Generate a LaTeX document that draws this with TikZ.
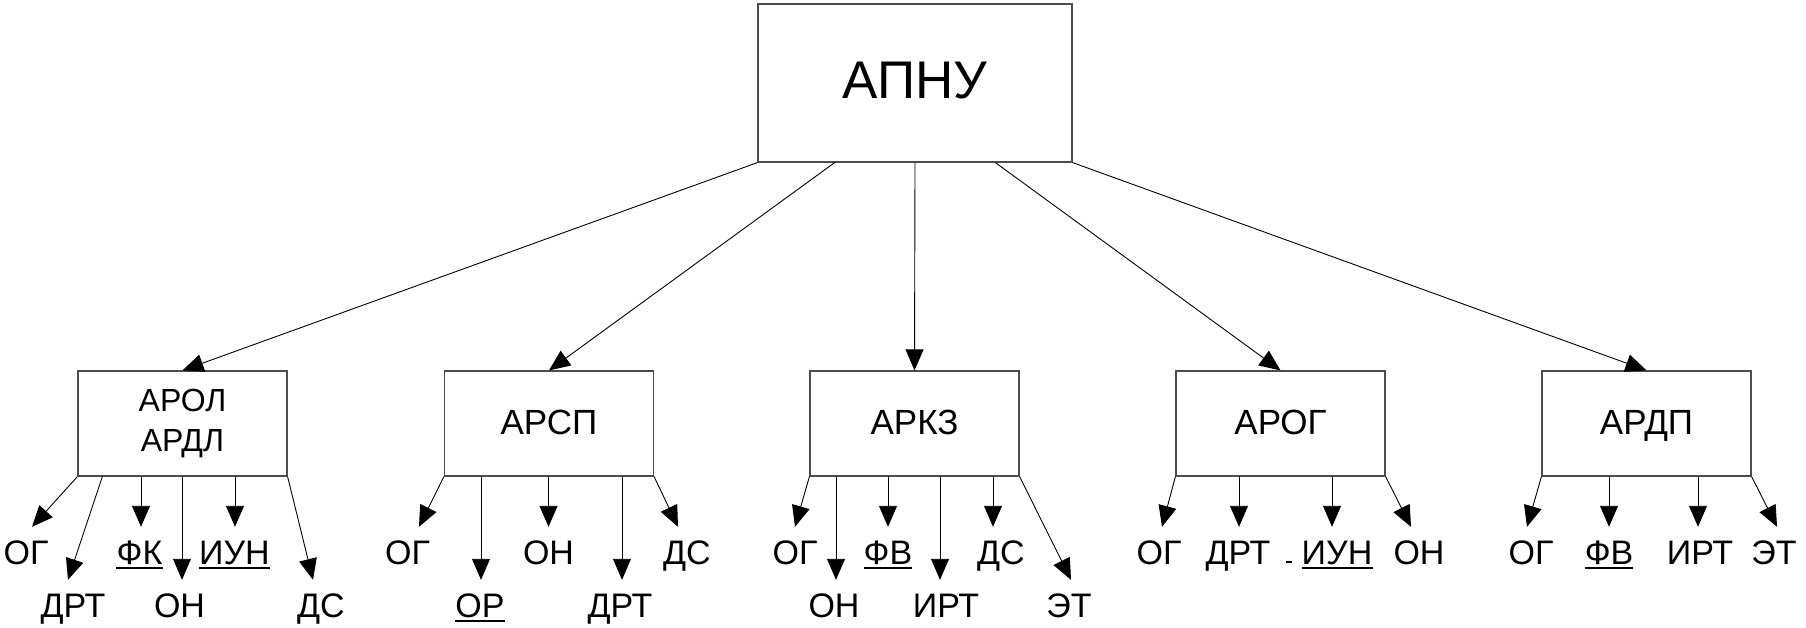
\documentclass[tikz,border=0pt]{standalone}
\usepackage{fontspec}
\setmainfont{Liberation Sans}
\usetikzlibrary{arrows.meta,calc}
\begin{document}
\begin{tikzpicture}[x=1pt,y=-1pt,
  boxst/.style={draw=black!70, line width=1.2pt, minimum width=209pt, minimum height=105pt, inner sep=0pt, align=center, font=\fontsize{35}{40}\selectfont},
  lab/.style={inner sep=0pt, anchor=base, text height=24pt, text depth=0pt, font=\fontsize{34}{40}\selectfont},
  conn/.style={line width=0.9pt, -{Triangle[length=21pt,width=18pt]}},
  uline/.style={line width=2pt}]
\useasboundingbox (0,0) rectangle (1806,627);
% top box
\node[draw=black!70, line width=1.2pt, minimum width=314pt, minimum height=158pt, inner sep=0pt,
  text height=38pt, text depth=8pt, font=\fontsize{53}{60}\selectfont] (top) at (915,83) {АПНУ};
% child boxes
\node[boxst, font=\fontsize{32}{40}\selectfont] (b1) at (182.5,423.5) {АРОЛ\\АРДЛ};
\node[boxst, text height=25pt, text depth=4pt] (b2) at (549,423.5) {АРСП};
\node[boxst, text height=25pt, text depth=4pt] (b3) at (914.5,423.5) {АРКЗ};
\node[boxst, text height=25pt, text depth=4pt] (b4) at (1280.5,423.5) {АРОГ};
\node[boxst, text height=25pt, text depth=4pt] (b5) at (1646.5,423.5) {АРДП};
% top connectors
\draw[conn] (top.south west) -- (b1.north);
\draw[conn] ($(top.south west)!0.245!(top.south east)$) -- (b2.north);
\draw[conn] (top.south) -- (b3.north);
\draw[conn] ($(top.south west)!0.755!(top.south east)$) -- (b4.north);
\draw[conn] (top.south east) -- (b5.north);
% group 1
\node[lab] (a1) at (26,564) {ОГ};
\node[lab] (a2) at (73,617) {ДРТ};
\node[lab] (a3) at (139.5,564) {ФК};
\node[lab] (a4) at (179.5,617) {ОН};
\node[lab] (a5) at (234.5,564) {ИУН};
\node[lab] (a6) at (321,617) {ДС};
\draw[conn] (b1.south west) -- ($(a1.north)+(6,-13)$);
\draw[conn] ($(b1.south west)+(25,0)$) -- ($(a2.north)+(-5,-13)$);
\draw[conn] ($(a3.north |- b1.south)+(1.5,0)$) -- ($(a3.north)+(1.5,-13)$);
\draw[conn] ($(a4.north |- b1.south)+(2.5,0)$) -- ($(a4.north)+(2.5,-13)$);
\draw[conn] ($(a5.north |- b1.south)+(0.5,0)$) -- ($(a5.north)+(0.5,-13)$);
\draw[conn] (b1.south east) -- ($(a6.north)+(-8,-13)$);
\draw[uline] ($(a3.south west)+(0,4)$) -- ($(a3.south east)+(0,4)$);
\draw[uline] ($(a5.south west)+(0,4)$) -- ($(a5.south east)+(0,4)$);
% group 2
\node[lab] (c1) at (407.5,564) {ОГ};
\node[lab] (c2) at (480,617) {ОР};
\node[lab] (c3) at (548.5,564) {ОН};
\node[lab] (c4) at (620,617) {ДРТ};
\node[lab] (c5) at (687,564) {ДС};
\draw[conn] (b2.south west) -- ($(c1.north)+(11.5,-13)$);
\draw[conn] ($(c2.north |- b2.south)+(1,0)$) -- ($(c2.north)+(1,-13)$);
\draw[conn] ($(c3.north |- b2.south)+(0,0)$) -- ($(c3.north)+(0,-13)$);
\draw[conn] ($(c4.north |- b2.south)+(2,0)$) -- ($(c4.north)+(2,-13)$);
\draw[conn] (b2.south east) -- ($(c5.north)+(-9,-13)$);
\draw[uline] ($(c2.south west)+(0,4)$) -- ($(c2.south east)+(0,4)$);
% group 3
\node[lab] (d1) at (795,564) {ОГ};
\node[lab] (d2) at (834,617) {ОН};
\node[lab] (d3) at (888,564) {ФВ};
\node[lab] (d4) at (946,617) {ИРТ};
\node[lab] (d5) at (1001,564) {ДС};
\node[lab] (d6) at (1069,617) {ЭТ};
\draw[conn] (b3.south west) -- ($(d1.north)+(0,-13)$);
\draw[conn] ($(d2.north |- b3.south)+(2,0)$) -- ($(d2.north)+(2,-13)$);
\draw[conn] ($(d3.north |- b3.south)+(0,0)$) -- ($(d3.north)+(0,-13)$);
\draw[conn] ($(d4.north |- b3.south)+(-6,0)$) -- ($(d4.north)+(-6,-13)$);
\draw[conn] ($(d5.north |- b3.south)+(-8,0)$) -- ($(d5.north)+(-8,-13)$);
\draw[conn] (b3.south east) -- ($(d6.north)+(2,-13)$);
\draw[uline] ($(d3.south west)+(0,4)$) -- ($(d3.south east)+(0,4)$);
% group 4
\node[lab] (e1) at (1159,564) {ОГ};
\node[lab] (e2) at (1238,564) {ДРТ};
\node[lab] (e3) at (1337,564) {ИУН};
\node[lab] (e4) at (1419,564) {ОН};
\draw[conn] (b4.south west) -- ($(e1.north)+(3,-13)$);
\draw[conn] ($(e2.north |- b4.south)+(1,0)$) -- ($(e2.north)+(1,-13)$);
\draw[conn] ($(e3.north |- b4.south)+(-5,0)$) -- ($(e3.north)+(-5,-13)$);
\draw[conn] (b4.south east) -- ($(e4.north)+(-8,-13)$);
\draw[uline] ($(e3.south west)+(0,4)$) -- ($(e3.south east)+(0,4)$);
\draw[uline] (1286,562) -- (1292,562);
% group 5
\node[lab] (f1) at (1531,564) {ОГ};
\node[lab] (f2) at (1609,564) {ФВ};
\node[lab] (f3) at (1700,564) {ИРТ};
\node[lab] (f4) at (1774,564) {ЭТ};
\draw[conn] (b5.south west) -- ($(f1.north)+(-4,-13)$);
\draw[conn] ($(f2.north |- b5.south)+(0,0)$) -- ($(f2.north)+(0,-13)$);
\draw[conn] ($(f3.north |- b5.south)+(-2,0)$) -- ($(f3.north)+(-2,-13)$);
\draw[conn] (b5.south east) -- ($(f4.north)+(3,-13)$);
\draw[uline] ($(f2.south west)+(0,4)$) -- ($(f2.south east)+(0,4)$);
\end{tikzpicture}
\end{document}
